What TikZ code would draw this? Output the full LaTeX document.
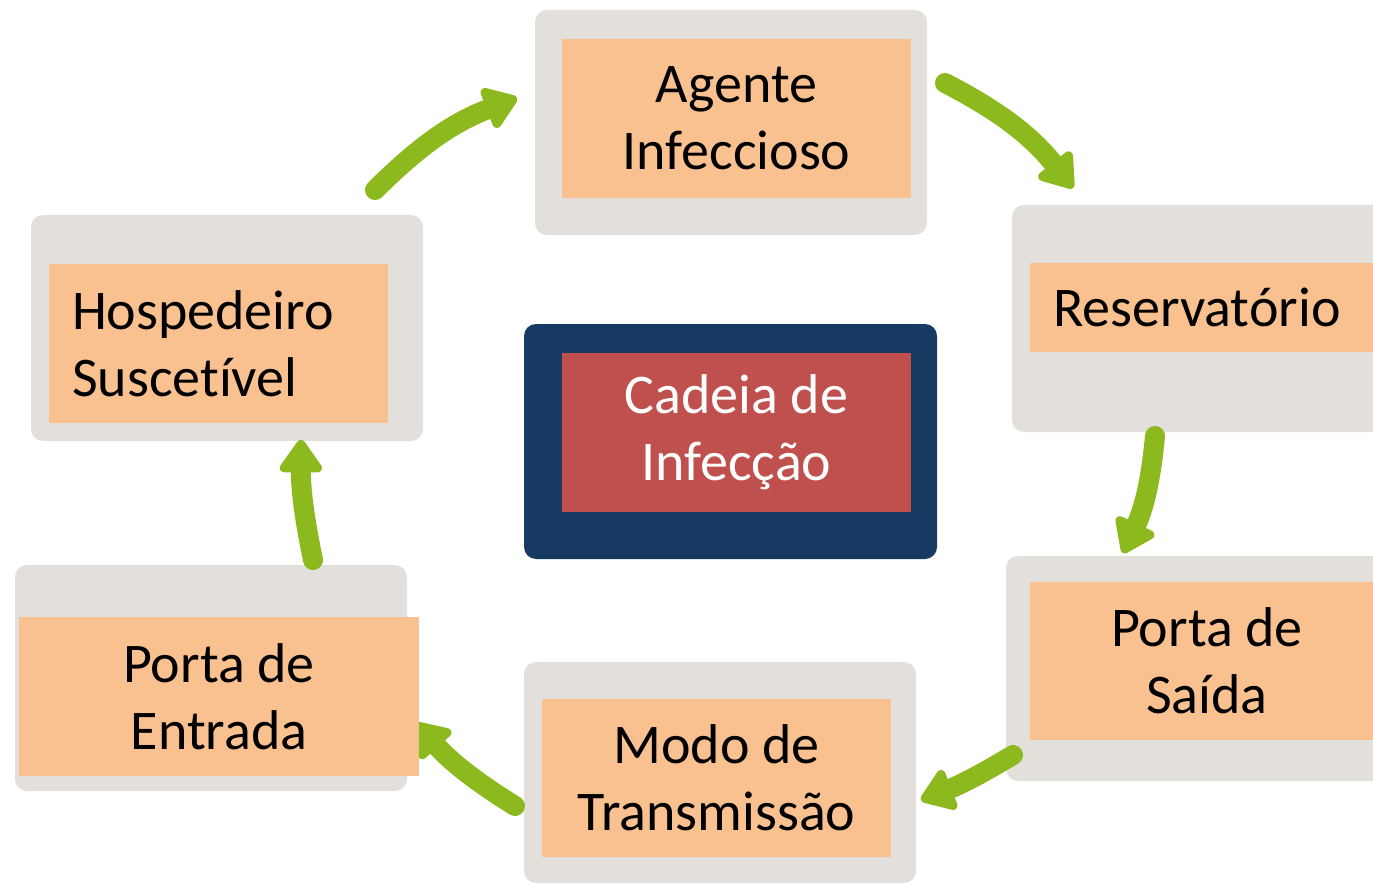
\documentclass[tikz,border=0pt]{standalone}
\usepackage{fontspec}
\setmainfont{Carlito}[Ligatures={NoCommon,NoContextual}]
\usetikzlibrary{arrows.meta}
\definecolor{boxGray}{RGB}{227,224,220}
\definecolor{boxOrange}{RGB}{249,192,144}
\definecolor{boxNavy}{RGB}{22,58,98}
\definecolor{boxRed}{RGB}{192,80,77}
\definecolor{arrowGreen}{RGB}{140,185,30}
\begin{document}
\begin{tikzpicture}
[x=1pt,y=-1pt,
  backDecorate/.style={fill=boxGray,rounded corners=12pt,inner sep=0pt},%
  labelDecorate/.style={fill=boxOrange,inner sep=0pt,align=center,
    font=\fontsize{56}{67}\selectfont},%
  arrowDecorate/.style={draw=arrowGreen,line width=20pt,line cap=round,
    -{Triangle[width=48pt,length=36pt,round]}}]
\useasboundingbox (0,0) rectangle (1373,885);
\clip (0,0) rectangle (1373,885);
%% grey boxes
\foreach \nodename/\x/\y/\w/\h in {
  agenteBg/731/122.5/392/225, reservBg/1201/318.5/378/227,
  saidaBg/1198/668.5/384/225, modoBg/720/772.5/392/221,
  entradaBg/211/678/392/226, hospBg/227/328/392/226}
{
  \node (\nodename) at (\x,\y) [backDecorate,minimum width=\w pt,minimum height=\h pt] {};
}
\node (cadeiaBg) at (730.5,441.5) [backDecorate,fill=boxNavy,
  minimum width=413pt,minimum height=235pt] {};
%% ends of the arrows
\foreach \pointname/\x/\y in {
  t1/375/190, h1/517/98, t2/945/83, h2/1073/188,
  t3/1155/436, h3/1123/553, t4/1013/755, h4/921/800,
  t5/515/806, h5/416/723, t6/313/560, h6/301/440}
{
  \coordinate (\pointname) at (\x,\y);
}
%% arrows
\path
\foreach \startnode/\endnode/\bend in {
  t1/h1/12, t2/h2/12, t3/h3/10, t4/h4/5, t5/h5/8, t6/h6/6}
{
  (\startnode) edge[arrowDecorate,bend left=\bend] (\endnode)
};
%% labels
\node (agente) at (736.5,118.5) [labelDecorate,minimum width=349pt,minimum height=159pt]
  {Agente\\Infeccioso};
\node (reserv) at (1207,307.5) [labelDecorate,align=left,inner xsep=23pt,
  text width=308pt,minimum height=89pt] {Reservatório};
\node (saida) at (1207,661) [labelDecorate,minimum width=354pt,minimum height=158pt]
  {Porta de\\Saída};
\node (modo) at (716.5,778) [labelDecorate,minimum width=349pt,minimum height=158pt]
  {Modo de\\Transmissão};
\node (entrada) at (219,696.5) [labelDecorate,minimum width=400pt,minimum height=159pt]
  {Porta de\\Entrada};
\node (hosp) at (218.5,343.5) [labelDecorate,align=left,inner xsep=23pt,
  text width=293pt,minimum height=159pt] {Hospedeiro\\Suscetível};
\node (cadeia) at (736.5,432.5) [labelDecorate,fill=boxRed,text=white,
  minimum width=349pt,minimum height=159pt] {Cadeia de\\Infecção};
\end{tikzpicture}
\end{document}
